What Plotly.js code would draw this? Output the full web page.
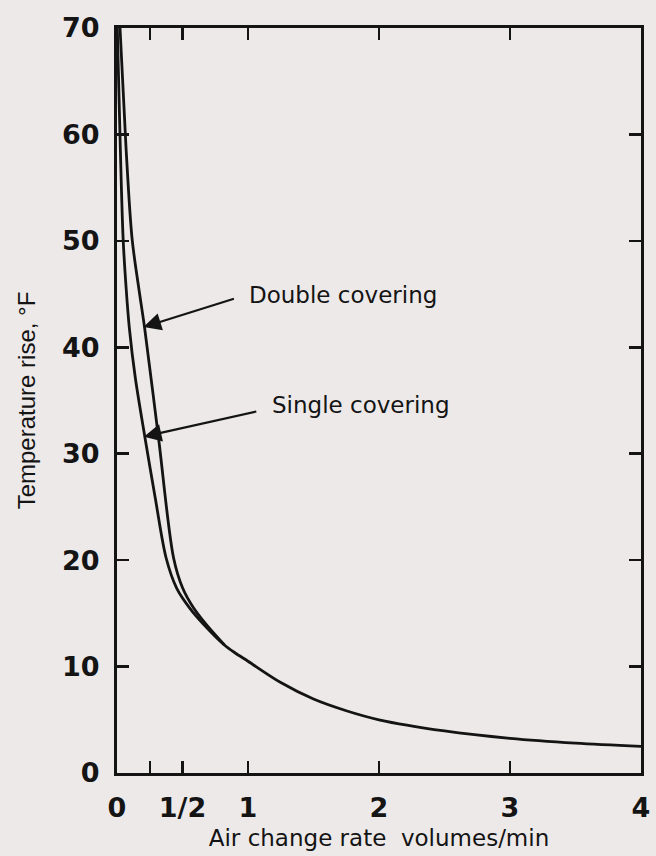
<!DOCTYPE html>
<html>
<head>
<meta charset="utf-8">
<script src="https://cdn.plot.ly/plotly-3.0.1.min.js"></script>
<style>html,body{margin:0;padding:0;background:#ede9e9;}</style>
</head>
<body>
<div id="chart" style="width:656px;height:856px;"></div>
<script>
// Single covering (inner curve)
const singleX = [0.0023, 0.0253, 0.0467, 0.0697, 0.0943, 0.140, 0.214, 0.292, 0.375, 0.455, 0.555, 0.666, 0.820, 0.9, 1.0, 1.25, 1.5, 1.75, 2.0, 2.5, 3.0, 3.5, 4.0];
const singleY = [70, 58.72, 50.20, 45.57, 41.81, 37.11, 31.48, 25.84, 20.20, 17.38, 15.50, 13.91, 12.03, 11.3, 10.5, 8.5, 6.95, 5.85, 5.0, 3.95, 3.25, 2.8, 2.5];
// Double covering (outer curve), joins the single curve near x = 0.82
const doubleX = [0.023, 0.069, 0.115, 0.166, 0.211, 0.317, 0.432, 0.501, 0.585, 0.684, 0.820];
const doubleY = [70, 58.72, 50.20, 45.57, 41.81, 31.48, 20.20, 17.38, 15.50, 13.91, 12.03];

const xTickVals = [0, 0.25, 0.5, 1, 2, 3, 4];
const xTickText = ["0", "", "1/2", "1", "2", "3", "4"];
const yTickVals = [0, 10, 20, 30, 40, 50, 60, 70];
const yTickText = ["0", "10", "20", "30", "40", "50", "60", "70"];

const ink = '#141414';
const bg = '#ede9e9';

const lineStyle = {color: ink, width: 2.8, shape: 'spline', smoothing: 0.9};

const traces = [
  {x: singleX, y: singleY, mode: 'lines', line: lineStyle, name: 'Single covering', hoverinfo: 'skip'},
  {x: doubleX, y: doubleY, mode: 'lines', line: lineStyle, name: 'Double covering', hoverinfo: 'skip'}
];

const axisCommon = {
  ticks: 'inside', ticklen: 12, tickwidth: 2.5, tickcolor: ink,
  showline: true, linewidth: 3, linecolor: ink, mirror: 'ticks',
  showgrid: false, zeroline: false,
  tickfont: {family: 'DejaVu Sans', size: 27, color: ink, weight: 'bold'}
};

const layout = {
  width: 656, height: 856,
  margin: {l: 117, r: 15, t: 28, b: 83},
  paper_bgcolor: bg, plot_bgcolor: bg,
  showlegend: false,
  xaxis: Object.assign({}, axisCommon, {
    range: [0, 4], tickmode: 'array', tickvals: xTickVals, ticktext: xTickText,
    ticklabelstandoff: 9,
    title: {text: 'Air change rate\u00a0 volumes/min', font: {family: 'DejaVu Sans', size: 23, color: ink}, standoff: 8}
  }),
  yaxis: Object.assign({}, axisCommon, {
    range: [0, 70], tickmode: 'array', tickvals: yTickVals, ticktext: yTickText,
    ticklabelstandoff: 9,
    title: {text: 'Temperature rise, °F', font: {family: 'Liberation Sans', size: 24, color: ink}, standoff: 20}
  }),
  annotations: [
    {x: 0.202, y: 41.9, ax: 0.904, ay: 44.6, axref: 'x', ayref: 'y', xref: 'x', yref: 'y',
     text: '', showarrow: true, arrowhead: 2, arrowsize: 1.6, arrowwidth: 2.2, arrowcolor: ink},
    {x: 0.205, y: 31.6, ax: 1.075, ay: 34.0, axref: 'x', ayref: 'y', xref: 'x', yref: 'y',
     text: '', showarrow: true, arrowhead: 2, arrowsize: 1.6, arrowwidth: 2.2, arrowcolor: ink},
    {x: 0.996, y: 44.9, xref: 'x', yref: 'y', xanchor: 'left', yanchor: 'middle', showarrow: false,
     text: 'Double covering', font: {family: 'DejaVu Sans', size: 23, color: ink}},
    {x: 1.165, y: 34.6, xref: 'x', yref: 'y', xanchor: 'left', yanchor: 'middle', showarrow: false,
     text: 'Single covering', font: {family: 'DejaVu Sans', size: 23, color: ink}}
  ]
};

Plotly.newPlot('chart', traces, layout, {displayModeBar: false, staticPlot: true});
</script>
</body>
</html>
